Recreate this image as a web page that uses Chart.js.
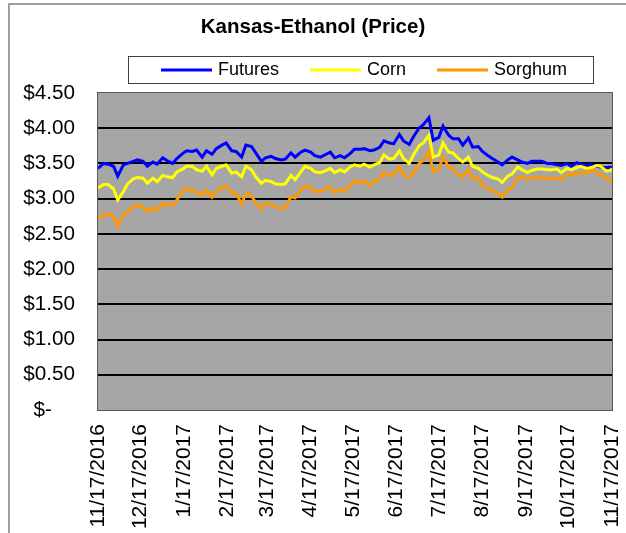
<!DOCTYPE html>
<html>
<head>
<meta charset="utf-8">
<title>Kansas-Ethanol (Price)</title>
<script src="https://cdn.jsdelivr.net/npm/chart.js@4.4.0/dist/chart.umd.min.js"></script>
<style>
  html, body { margin: 0; padding: 0; background: #fff; }
  #wrap { position: relative; width: 626px; height: 533px; overflow: hidden; }
  #wrap canvas { position: absolute; left: 0; top: 0; }
  #frame {
    position: absolute; left: 8px; top: 3px; width: 700px; height: 600px;
    border-left: 2px solid #a0a0a0; border-top: 2px solid #a0a0a0;
    pointer-events: none;
  }
</style>
</head>
<body>
<div id="wrap">
  <canvas id="priceChart" width="626" height="533"></canvas>
  <div id="frame"></div>
</div>
<script>
// Data
const dates = [
  '2016-11-17','2016-11-21','2016-11-24','2016-11-28','2016-12-01','2016-12-05','2016-12-08','2016-12-12','2016-12-15','2016-12-19','2016-12-22','2016-12-26','2016-12-29',
  '2017-01-02','2017-01-05','2017-01-09','2017-01-12','2017-01-16','2017-01-19','2017-01-23','2017-01-26','2017-01-30',
  '2017-02-02','2017-02-06','2017-02-09','2017-02-13','2017-02-16','2017-02-20','2017-02-23','2017-02-27',
  '2017-03-02','2017-03-06','2017-03-09','2017-03-13','2017-03-16','2017-03-20','2017-03-23','2017-03-27','2017-03-30',
  '2017-04-03','2017-04-06','2017-04-10','2017-04-13','2017-04-17','2017-04-20','2017-04-24','2017-04-27',
  '2017-05-01','2017-05-04','2017-05-08','2017-05-11','2017-05-15','2017-05-18','2017-05-22','2017-05-25','2017-05-29',
  '2017-06-01','2017-06-05','2017-06-08','2017-06-12','2017-06-15','2017-06-19','2017-06-22','2017-06-26','2017-06-29',
  '2017-07-03','2017-07-06','2017-07-10','2017-07-13','2017-07-17','2017-07-20','2017-07-24','2017-07-27','2017-07-31',
  '2017-08-03','2017-08-07','2017-08-10','2017-08-14','2017-08-17','2017-08-21','2017-08-24','2017-08-28','2017-08-31',
  '2017-09-04','2017-09-07','2017-09-11','2017-09-14','2017-09-18','2017-09-21','2017-09-25','2017-09-28',
  '2017-10-02','2017-10-05','2017-10-09','2017-10-12','2017-10-16','2017-10-19','2017-10-23','2017-10-26','2017-10-30',
  '2017-11-02','2017-11-06','2017-11-09','2017-11-13','2017-11-16','2017-11-17'
];

const futures = [
  3.43, 3.50, 3.49, 3.46, 3.32, 3.48, 3.50, 3.53, 3.55, 3.53, 3.46, 3.52, 3.49,
  3.58, 3.54, 3.50, 3.57, 3.64, 3.68, 3.67, 3.69, 3.59,
  3.68, 3.63, 3.71, 3.76, 3.79, 3.68, 3.67, 3.59,
  3.76, 3.74, 3.65, 3.53, 3.58, 3.60, 3.57, 3.55, 3.56,
  3.65, 3.59, 3.66, 3.69, 3.66, 3.61, 3.59, 3.62,
  3.66, 3.58, 3.61, 3.58, 3.64, 3.70, 3.70, 3.71, 3.68,
  3.69, 3.73, 3.82, 3.79, 3.78, 3.91, 3.82, 3.77, 3.88,
  4.00, 4.05, 4.15, 3.83, 3.87, 4.03, 3.90, 3.85, 3.85,
  3.76, 3.86, 3.73, 3.74, 3.67, 3.61, 3.57, 3.52, 3.48,
  3.55, 3.59, 3.55, 3.52, 3.50, 3.53, 3.53, 3.53,
  3.50, 3.50, 3.48, 3.47, 3.50, 3.46, 3.51, 3.49, 3.47,
  3.48, 3.46, 3.45, 3.44, 3.45, 3.44
];

const corn = [
  3.15, 3.20, 3.20, 3.14, 2.98, 3.10, 3.21, 3.28, 3.30, 3.29, 3.22, 3.29, 3.24,
  3.33, 3.31, 3.30, 3.38, 3.42, 3.46, 3.46, 3.41, 3.39,
  3.46, 3.34, 3.43, 3.46, 3.48, 3.36, 3.38, 3.31,
  3.46, 3.41, 3.31, 3.22, 3.26, 3.24, 3.21, 3.20, 3.21,
  3.33, 3.27, 3.38, 3.46, 3.43, 3.38, 3.37, 3.39,
  3.43, 3.37, 3.41, 3.38, 3.45, 3.48, 3.46, 3.49, 3.45,
  3.48, 3.51, 3.62, 3.56, 3.57, 3.68, 3.57, 3.50, 3.62,
  3.75, 3.79, 3.90, 3.59, 3.62, 3.79, 3.66, 3.65, 3.57,
  3.52, 3.59, 3.46, 3.43, 3.38, 3.33, 3.30, 3.28, 3.23,
  3.32, 3.35, 3.45, 3.41, 3.37, 3.40, 3.42, 3.42,
  3.41, 3.41, 3.42, 3.37, 3.43, 3.41, 3.44, 3.46, 3.43,
  3.44, 3.47, 3.46, 3.39, 3.40, 3.43
];

const sorghum = [
  2.71, 2.77, 2.78, 2.75, 2.61, 2.77, 2.81, 2.88, 2.91, 2.88, 2.81, 2.87, 2.84,
  2.93, 2.91, 2.91, 2.98, 3.10, 3.15, 3.10, 3.10, 3.05,
  3.12, 3.02, 3.10, 3.16, 3.18, 3.08, 3.08, 2.92,
  3.08, 3.04, 2.94, 2.85, 2.93, 2.92, 2.88, 2.86, 2.87,
  3.03, 3.01, 3.12, 3.18, 3.16, 3.10, 3.10, 3.13,
  3.17, 3.09, 3.13, 3.10, 3.18, 3.26, 3.22, 3.25, 3.19,
  3.24, 3.28, 3.38, 3.32, 3.35, 3.45, 3.34, 3.30, 3.36,
  3.50, 3.54, 3.68, 3.38, 3.42, 3.59, 3.45, 3.43, 3.34,
  3.31, 3.41, 3.28, 3.29, 3.19, 3.14, 3.11, 3.08, 3.02,
  3.12, 3.16, 3.30, 3.31, 3.27, 3.30, 3.31, 3.30,
  3.29, 3.28, 3.29, 3.27, 3.34, 3.34, 3.36, 3.37, 3.36,
  3.40, 3.38, 3.34, 3.29, 3.26, 3.23
];

const tickLabels = [
  '11/17/2016', '12/17/2016', '1/17/2017', '2/17/2017', '3/17/2017', '4/17/2017', '5/17/2017',
  '6/17/2017', '7/17/2017', '8/17/2017', '9/17/2017', '10/17/2017', '11/17/2017'
];

const seriesNames = ['Futures', 'Corn', 'Sorghum'];
const seriesColors = ['#0000ff', '#ffff00', '#ff9900'];

// Days counted from the first date, so the x axis spaces dates like a calendar
const startDay = Date.UTC(2016, 10, 17);
const isoToDay = (s) => {
  const [y, m, d] = s.split('-').map(Number);
  return Math.round((Date.UTC(y, m - 1, d) - startDay) / 86400000);
};
const labelToDay = (s) => {
  const [m, d, y] = s.split('/').map(Number);
  return Math.round((Date.UTC(y, m - 1, d) - startDay) / 86400000);
};

const toPoints = (values) => values.map((v, i) => ({ x: isoToDay(dates[i]), y: v }));

const FONT = '"Liberation Sans", Arial, Helvetica, sans-serif';
Chart.defaults.font.family = FONT;
Chart.defaults.color = '#000';

// grey plot area with a thin frame
const plotArea = {
  id: 'plotArea',
  beforeDraw(chart) {
    const { ctx, chartArea: a } = chart;
    ctx.save();
    ctx.fillStyle = '#a6a6a6';
    ctx.fillRect(a.left, a.top, a.right - a.left, a.bottom - a.top);
    ctx.restore();
  },
  beforeDatasetsDraw(chart) {
    const { ctx, chartArea: a } = chart;
    ctx.save();
    ctx.strokeStyle = '#5a5a5a';
    ctx.lineWidth = 1;
    ctx.strokeRect(a.left - 0.5, a.top - 0.5, a.right - a.left + 1, a.bottom - a.top + 1);
    ctx.restore();
  }
};

// boxed legend like the Excel one
const boxedLegend = {
  id: 'boxedLegend',
  afterDraw(chart) {
    const ctx = chart.ctx;
    ctx.save();
    ctx.fillStyle = '#fff';
    ctx.fillRect(128, 56, 466, 28);
    ctx.strokeStyle = '#404040';
    ctx.lineWidth = 1;
    ctx.strokeRect(128.5, 56.5, 465, 27);

    ctx.font = '18px ' + FONT;
    ctx.textBaseline = 'middle';
    ctx.textAlign = 'left';
    let x = 161;
    const y = 70;
    chart.data.datasets.forEach((ds) => {
      ctx.strokeStyle = ds.borderColor;
      ctx.lineWidth = 3;
      ctx.beginPath();
      ctx.moveTo(x, y);
      ctx.lineTo(x + 51, y);
      ctx.stroke();
      ctx.fillStyle = '#000';
      ctx.fillText(ds.label, x + 57, y);
      x += 57 + ctx.measureText(ds.label).width + 31;
    });
    ctx.restore();
  }
};

new Chart(document.getElementById('priceChart'), {
  type: 'line',
  data: {
    datasets: [
      { label: seriesNames[0], data: toPoints(futures), borderColor: seriesColors[0], order: 3 },
      { label: seriesNames[1], data: toPoints(corn), borderColor: seriesColors[1], order: 2 },
      { label: seriesNames[2], data: toPoints(sorghum), borderColor: seriesColors[2], order: 1 }
    ]
  },
  options: {
    responsive: false,
    animation: false,
    layout: { padding: 0 },
    elements: {
      line: { borderWidth: 3, tension: 0 },
      point: { radius: 0 }
    },
    plugins: {
      legend: { display: false },
      tooltip: { enabled: false },
      title: {
        display: true,
        text: 'Kansas-Ethanol (Price)',
        color: '#000',
        font: { size: 20.5, weight: 'bold', family: FONT, lineHeight: 1.2 },
        padding: { top: 15, bottom: 53.4 }
      }
    },
    scales: {
      x: {
        type: 'linear',
        min: 0,
        max: 365,
        afterBuildTicks: (scale) => {
          scale.ticks = tickLabels.map((t) => ({ value: labelToDay(t) }));
        },
        afterFit: (scale) => {
          scale.height = 123;
          scale.paddingLeft = 0;
          scale.paddingRight = 0;
        },
        ticks: {
          autoSkip: false,
          minRotation: 90,
          maxRotation: 90,
          padding: 14,
          color: '#000',
          font: { size: 21, family: FONT },
          callback: (value, index) => tickLabels[index]
        },
        grid: { display: false, drawTicks: false },
        border: { display: false }
      },
      y: {
        min: 0,
        max: 4.5,
        afterFit: (scale) => {
          scale.width = 98;
          scale.paddingTop = 0;
          scale.paddingBottom = 0;
        },
        ticks: {
          stepSize: 0.5,
          padding: 23,
          color: '#000',
          font: { size: 20.7, family: FONT },
          callback: (v) => (v === 0 ? '$-    ' : '$' + Number(v).toFixed(2))
        },
        grid: {
          drawTicks: false,
          lineWidth: 2,
          color: (c) => (c.tick && (c.tick.value === 0 || c.tick.value === 4.5)) ? 'rgba(0,0,0,0)' : '#000'
        },
        border: { display: false }
      },
      // empty strip on the right so the plot stops short of the edge
      yRight: {
        position: 'right',
        min: 0,
        max: 4.5,
        afterFit: (scale) => {
          scale.width = 14;
        },
        ticks: { display: false },
        grid: { display: false, drawTicks: false },
        border: { display: false }
      }
    }
  },
  plugins: [plotArea, boxedLegend]
});
</script>
</body>
</html>
